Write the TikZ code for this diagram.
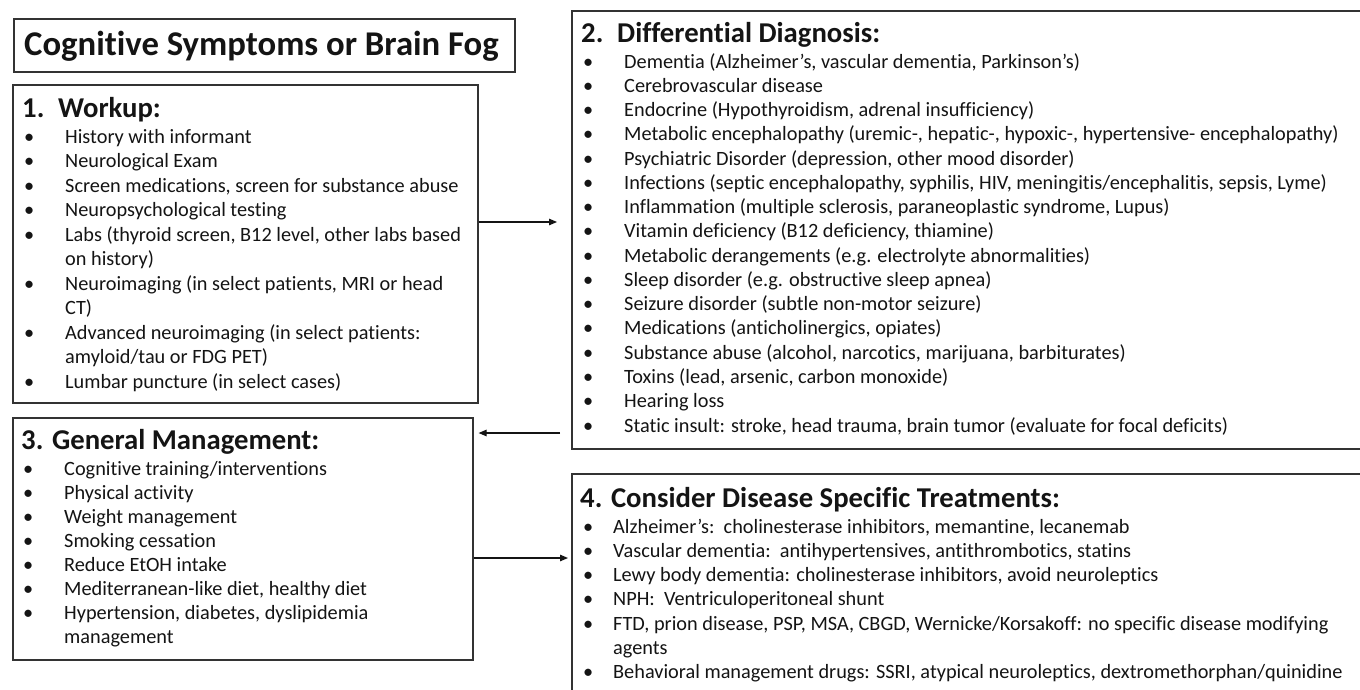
\documentclass[tikz,border=0pt]{standalone}
\usepackage{fontspec}
\setmainfont{Carlito}[Ligatures={NoCommon,NoContextual}]
\usetikzlibrary{arrows.meta}
\definecolor{ink}{HTML}{141414}
\definecolor{framec}{HTML}{333333}
\newcommand\itm[1]{\noindent\makebox[41pt][l]{•}#1\par}
\newcommand\itmb[1]{\noindent\makebox[30pt][l]{•}#1\par}
\newcommand\cont[1]{\noindent\hspace*{41pt}#1\par}
\newcommand\contb[1]{\noindent\hspace*{30pt}#1\par}
\newcommand\lst[2]{\parbox[t]{800pt}{\parindent=0pt\parskip=0pt\fontsize{20.3}{#1}\selectfont #2}}
\begin{document}
\begin{tikzpicture}[x=1pt,y=-1pt,
  frame/.style={draw=framec, line width=1.6pt, inner sep=0pt, anchor=north west, fill=none},
  head/.style={anchor=base west, inner sep=0pt, text=ink, font=\fontsize{28.7}{33}\selectfont\bfseries},
  body/.style={anchor=base west, inner sep=0pt, text=ink},
  arr/.style={draw=ink, line width=1.2pt, -{Triangle[length=8pt,width=6.5pt]}}]
\useasboundingbox (0,0) rectangle (1360,689);
\clip (0,0) rectangle (1360,689);
\fill[white] (0,0) rectangle (1360,689);

% title
\node[frame, minimum width=501pt, minimum height=53pt] (tb) at (13,18) {};
\node[anchor=base west, inner sep=0pt, text=ink, font=\fontsize{34.7}{40}\selectfont\bfseries] (tt) at (24,55) {Cognitive Symptoms or Brain Fog};

% box 1
\node[frame, minimum width=465pt, minimum height=318pt] (b1) at (12,84) {};
\node[head] (h1) at (22,117) {\makebox[36pt][l]{1.}Workup:};
\node[body] (l1) at (24,143) {\lst{24.5}{%
\itm{History with informant}
\itm{Neurological Exam}
\itm{Screen medications, screen for substance abuse}
\itm{Neuropsychological testing}
\itm{Labs (thyroid screen, B12 level, other labs based}
\cont{on history)}
\itm{Neuroimaging (in select patients, MRI or head}
\cont{CT)}
\itm{Advanced neuroimaging (in select patients:}
\cont{amyloid/tau or FDG PET)}
\itm{Lumbar puncture (in select cases)}}};

% box 2
\node[frame, minimum width=820pt, minimum height=438pt] (b2) at (571,10) {};
\node[head] (h2) at (581,42) {\makebox[36pt][l]{2.}Differential Diagnosis:};
\node[body] (l2) at (583,68) {\lst{24.27}{%
\itm{Dementia (Alzheimer’s, vascular dementia, Parkinson’s)}
\itm{Cerebrovascular disease}
\itm{Endocrine (Hypothyroidism, adrenal insufficiency)}
\itm{Metabolic encephalopathy (uremic-, hepatic-, hypoxic-, hypertensive- encephalopathy)}
\itm{Psychiatric Disorder (depression, other mood disorder)}
\itm{Infections (septic encephalopathy, syphilis, HIV, meningitis/encephalitis, sepsis, Lyme)}
\itm{Inflammation (multiple sclerosis, paraneoplastic syndrome, Lupus)}
\itm{Vitamin deficiency (B12 deficiency, thiamine)}
\itm{Metabolic derangements (e.g. electrolyte abnormalities)}
\itm{Sleep disorder (e.g. obstructive sleep apnea)}
\itm{Seizure disorder (subtle non-motor seizure)}
\itm{Medications (anticholinergics, opiates)}
\itm{Substance abuse (alcohol, narcotics, marijuana, barbiturates)}
\itm{Toxins (lead, arsenic, carbon monoxide)}
\itm{Hearing loss}
\itm{Static insult: stroke, head trauma, brain tumor (evaluate for focal deficits)}}};

% box 3
\node[frame, minimum width=460pt, minimum height=242pt] (b3) at (12,417) {};
\node[head] (h3) at (21,449) {3. General Management:};
\node[body] (l3) at (23,475) {\lst{24}{%
\itm{Cognitive training/interventions}
\itm{Physical activity}
\itm{Weight management}
\itm{Smoking cessation}
\itm{Reduce EtOH intake}
\itm{Mediterranean-like diet, healthy diet}
\itm{Hypertension, diabetes, dyslipidemia}
\cont{management}}};

% box 4
\node[frame, minimum width=820pt, minimum height=260pt] (b4) at (571,473) {};
\node[head] (h4) at (580,507) {4. Consider Disease Specific Treatments:};
\node[body] (l4) at (583,533) {\lst{24.3}{%
\itmb{Alzheimer’s:\ \ cholinesterase inhibitors, memantine, lecanemab}
\itmb{Vascular dementia:\ \ antihypertensives, antithrombotics, statins}
\itmb{Lewy body dementia: cholinesterase inhibitors, avoid neuroleptics}
\itmb{NPH:\ \ Ventriculoperitoneal shunt}
\itmb{FTD, prion disease, PSP, MSA, CBGD, Wernicke/Korsakoff: no specific disease modifying}
\contb{agents}
\itmb{Behavioral management drugs: SSRI, atypical neuroleptics, dextromethorphan/quinidine}}};

% connectors
\draw[arr, shorten >=14pt] (b1.east |- 0,222) -- (b2.west |- 0,222);
\draw[arr, shorten <=11pt, shorten >=5pt] (b2.west |- 0,433) -- (b3.east |- 0,433);
\draw[arr, shorten >=3pt] (b3.east |- 0,558) -- (b4.west |- 0,558);
\end{tikzpicture}
\end{document}
